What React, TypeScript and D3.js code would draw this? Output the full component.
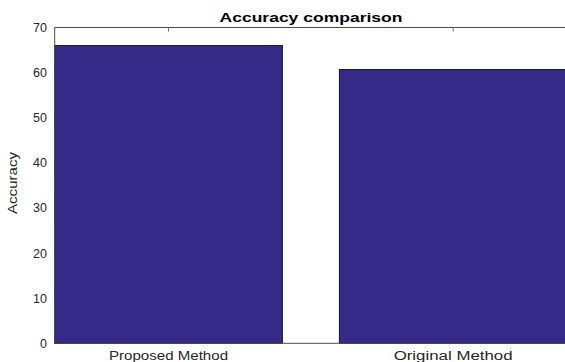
import React from "react";
import * as d3 from "d3";

const categories = ["Proposed Method", "Original Method"];
const accuracy = [66, 60.7];
const yTicks = [0, 10, 20, 30, 40, 50, 60, 70];
const labelLengths = [119, 119];

const W = 565;
const H = 362;
const left = 54.7;
const right = 567;
const top = 27.5;
const bottom = 343.3;

export default function App() {
  const x = d3.scaleBand<string>().domain(categories).range([left, right]).paddingInner(0.2).paddingOuter(0);
  const y = d3.scaleLinear().domain([0, 70]).range([bottom, top]);
  const axisColor = "#4d4d4d";
  const font = "Arial, 'Liberation Sans', Helvetica, sans-serif";
  return (
    <svg width={W} height={H} style={{ position: "absolute", left: 0, top: 0, background: "#fff" }} fontFamily={font}>
      <rect x={0} y={0} width={W} height={H} fill="#fff" />
      {/* y ticks */}
      {yTicks.map((t) => (
        <g key={t}>
          <line x1={left} x2={left + 5} y1={y(t)} y2={y(t)} stroke={axisColor} strokeWidth={0.8} />
          <text x={47} y={y(t)} dy="0.36em" textAnchor="end" fontSize={12.5} fill="#262626">
            {t}
          </text>
        </g>
      ))}
      {/* x ticks */}
      {categories.map((c) => {
        const cx = (x(c) as number) + x.bandwidth() / 2;
        return (
          <g key={c}>
            <line x1={cx} x2={cx} y1={top} y2={top + 4} stroke={axisColor} strokeWidth={0.8} />
            <line x1={cx} x2={cx} y1={bottom} y2={bottom - 4} stroke={axisColor} strokeWidth={0.8} />
          </g>
        );
      })}
      {/* bars */}
      {categories.map((c, i) => (
        <rect
          key={c}
          x={x(c) as number}
          y={y(accuracy[i])}
          width={x.bandwidth()}
          height={y(0) - y(accuracy[i])}
          fill="#352a87"
          stroke="#000"
          strokeWidth={0.8}
        />
      ))}
      {/* box */}
      <line x1={left} x2={right} y1={top} y2={top} stroke={axisColor} strokeWidth={1} />
      <line x1={left} x2={right} y1={bottom} y2={bottom} stroke={axisColor} strokeWidth={1} />
      <line x1={left} x2={left} y1={top} y2={bottom} stroke={axisColor} strokeWidth={1} />
      <line x1={right} x2={right} y1={top} y2={bottom} stroke={axisColor} strokeWidth={1} />
      {/* x labels */}
      {categories.map((c, i) => {
        const cx = (x(c) as number) + x.bandwidth() / 2;
        return (
          <text
            key={c}
            x={cx}
            y={359.6}
            textAnchor="middle"
            fontSize={12}
            fill="#262626"
            textLength={labelLengths[i]}
            lengthAdjust="spacingAndGlyphs"
          >
            {c}
          </text>
        );
      })}
      {/* y label */}
      <text
        transform={`translate(17,183) rotate(-90)`}
        textAnchor="middle"
        fontSize={12.5}
        fill="#262626"
        textLength={62}
        lengthAdjust="spacingAndGlyphs"
      >
        Accuracy
      </text>
      {/* title */}
      <text
        x={311}
        y={22.3}
        textAnchor="middle"
        fontSize={12}
        fontWeight="bold"
        fill="#000"
        textLength={183}
        lengthAdjust="spacingAndGlyphs"
      >
        Accuracy comparison
      </text>
    </svg>
  );
}
